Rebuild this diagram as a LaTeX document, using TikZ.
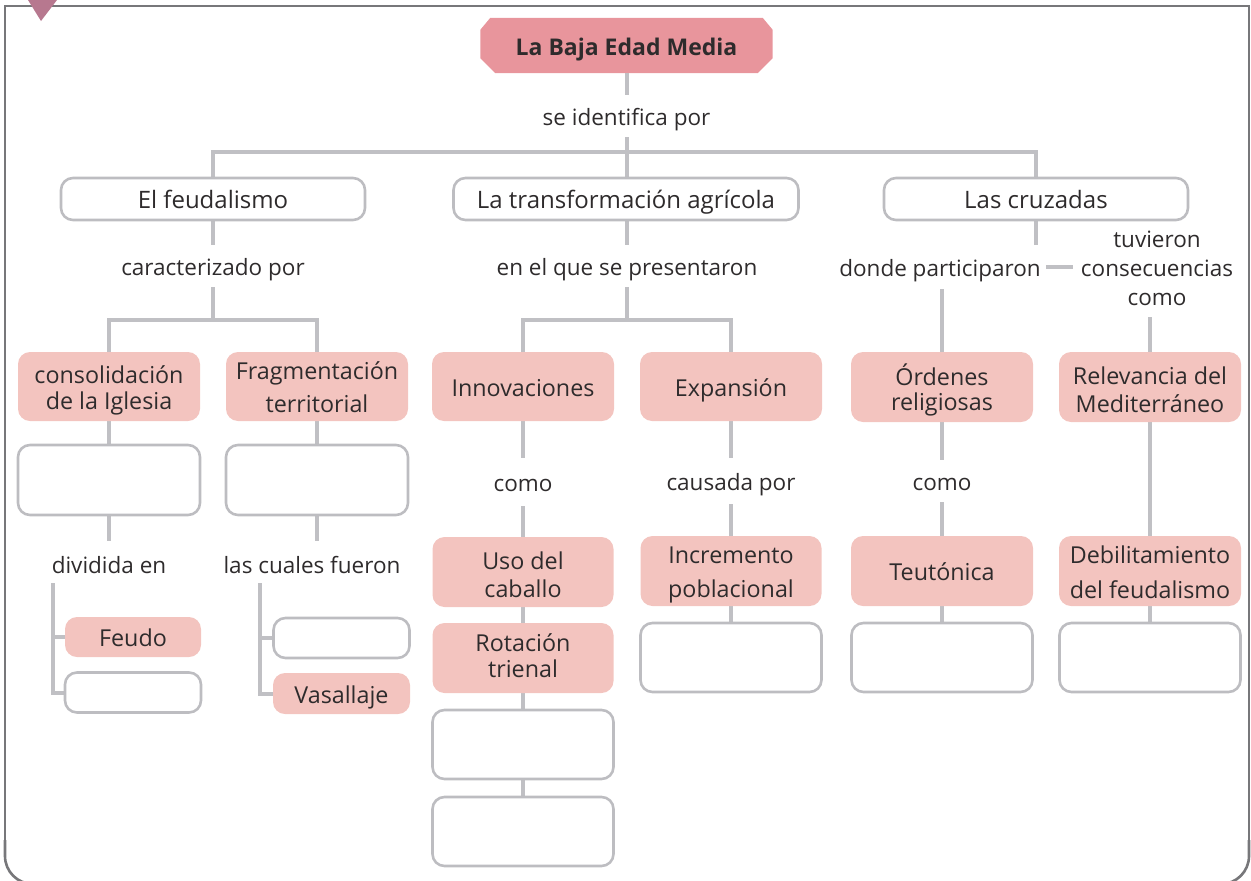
\documentclass[tikz,border=0pt]{standalone}
\usepackage{fontspec}
\setmainfont{Open Sans}
\usetikzlibrary{backgrounds}
\definecolor{linegray}{HTML}{C0C0C4}
\definecolor{boxgray}{HTML}{BDBDC1}
\definecolor{framegray}{HTML}{77777A}
\definecolor{pinkfill}{HTML}{F3C4BF}
\definecolor{titlefill}{HTML}{E8959C}
\definecolor{trifill}{HTML}{B7788F}
\definecolor{txt}{HTML}{2E2B2C}
\newcommand{\twoln}[4]{\rule{0pt}{#1pt}#3\\#4\rule[-#2pt]{0pt}{#2pt}}
\newcommand{\bfs}[1]{\fontsize{23.3}{#1}\selectfont}
\begin{document}
\begin{tikzpicture}[x=1pt,y=-1pt,
  every node/.style={font=\fontsize{22.5}{27}\selectfont, text=txt, inner sep=0pt, align=center},
  sl/.style={text height=21pt, text depth=2pt},
  conn/.style={draw=linegray, line width=4pt},
  wbox/.style={draw=boxgray, line width=2.6pt, fill=white, rounded corners=12pt},
  hbox/.style={wbox, sl, font=\fontsize{24}{27}\selectfont, minimum height=42pt},
  pbox/.style={fill=pinkfill, rounded corners=12pt, font=\bfs{27}},
  lbl/.style={sl, inner xsep=5pt},
]
\useasboundingbox (0,0) rectangle (1251,881);
% frame
\draw[framegray, line width=2.6pt] (5,860) -- (5,6) -- (1249,6) -- (1249,860);
\draw[framegray, line width=2.6pt, rounded corners=28pt] (1249,840) -- (1249,884) -- (5,884) -- (5,840);

% title and first level
\node[sl, minimum width=292pt, minimum height=55pt, font=\fontsize{23}{27}\selectfont\bfseries] (title) at (626.5,45.5) {La Baja Edad Media};
\node[lbl, minimum height=42pt] (sip) at (626.5,116) {se identifica por};
\coordinate (bus1) at (626.5,152);
\node[hbox, minimum width=304pt] (feud) at (213,199) {El feudalismo};
\node[hbox, minimum width=345pt] (trans) at (626,199) {La transformación agrícola};
\node[hbox, minimum width=304pt] (cruz) at (1036,199) {Las cruzadas};

% left branch
\node[lbl, minimum height=42pt] (carac) at (213,266) {caracterizado por};
\coordinate (bus2) at (213,320);
\node[pbox, minimum width=182pt, minimum height=69pt, font=\bfs{26}] (cons) at (109,386.5) {\twoln{26}{6}{consolidación}{de la Iglesia}};
\node[pbox, minimum width=182pt, minimum height=69pt, font=\bfs{33}] (frag) at (317,386.5) {\twoln{25}{6}{Fragmentación}{territorial}};
\node[wbox, minimum width=182pt, minimum height=70pt] (b1) at (109,480) {};
\node[wbox, minimum width=182pt, minimum height=70pt] (b2) at (317,480) {};
\node[lbl, minimum height=46pt] (divid) at (109,564) {dividida en};
\node[lbl, minimum height=46pt] (cuales) at (312,564) {las cuales fueron};
\coordinate (k1) at (53,583);
\coordinate (k2) at (260,583);
\node[pbox, sl, minimum width=136pt, minimum height=40pt] (feudo) at (133,637) {Feudo};
\node[wbox, minimum width=136pt, minimum height=40pt] (b3) at (133,692.5) {};
\node[wbox, minimum width=136pt, minimum height=40pt] (b4) at (341.5,638) {};
\node[pbox, sl, minimum width=137pt, minimum height=41pt] (vasal) at (341.5,693.5) {Vasallaje};

% middle branch
\node[lbl, minimum height=42pt] (enque) at (627,266) {en el que se presentaron};
\coordinate (bus3) at (627,320);
\node[pbox, sl, minimum width=182pt, minimum height=69pt] (innov) at (523,386.5) {Innovaciones};
\node[pbox, sl, minimum width=182pt, minimum height=69pt] (expa) at (731,386.5) {Expansión};
\node[lbl, minimum height=48pt] (como1) at (523,482) {como};
\node[lbl, minimum height=46pt] (causa) at (731,481) {causada por};
\node[pbox, minimum width=181pt, minimum height=70pt, font=\bfs{28}] (uso) at (523,572) {\twoln{28}{6}{Uso del}{caballo}};
\node[pbox, minimum width=181pt, minimum height=70pt, font=\bfs{26}] (rota) at (523,658) {\twoln{22}{10}{Rotación}{trienal}};
\node[wbox, minimum width=181pt, minimum height=69pt] (b5) at (523,744.5) {};
\node[wbox, minimum width=181pt, minimum height=69pt] (b6) at (523,831.5) {};
\node[pbox, minimum width=181pt, minimum height=70pt, font=\bfs{34}] (incr) at (731,571) {\twoln{24}{6}{Incremento}{poblacional}};
\node[wbox, minimum width=181pt, minimum height=69pt] (b7) at (731,657.5) {};

% right branch
\node[lbl, minimum height=44pt] (donde) at (940,267) {donde participaron};
\node[minimum height=94pt, inner xsep=8pt, font=\fontsize{22.5}{29}\selectfont] (tuv) at (1157,270) {\rule{0pt}{20pt}tuvieron\\consecuencias\\como\rule[-8pt]{0pt}{8pt}};
\node[pbox, minimum width=182pt, minimum height=70pt, font=\bfs{25}] (orden) at (942,387) {\twoln{27}{6}{Órdenes}{religiosas}};
\node[pbox, minimum width=182pt, minimum height=70pt, font=\bfs{28}] (relev) at (1150,387) {\twoln{28}{6}{Relevancia del}{Mediterráneo}};
\node[lbl, minimum height=42pt] (como2) at (942,481) {como};
\node[pbox, sl, minimum width=182pt, minimum height=70pt] (teut) at (942,571) {Teutónica};
\node[wbox, minimum width=181pt, minimum height=69pt] (b8) at (942,657.5) {};
\node[pbox, minimum width=182pt, minimum height=70pt, font=\bfs{35}] (debil) at (1150,571) {\twoln{25}{6}{Debilitamiento}{del feudalismo}};
\node[wbox, minimum width=181pt, minimum height=69pt] (b9) at (1150,657.5) {};

\begin{scope}[on background layer]
  \fill[titlefill] ([xshift=10pt]title.north west) -- ([xshift=-10pt]title.north east)
     -- ([yshift=-12pt]title.north east) -- ([yshift=15pt]title.south east)
     -- ([xshift=-15pt]title.south east) -- ([xshift=15pt]title.south west)
     -- ([yshift=15pt]title.south west) -- ([yshift=-12pt]title.north west) -- cycle;
  \draw[conn] (title.south) -- (sip.north);
  \draw[conn] (sip.south) -- (sip.south |- trans.north);
  \draw[conn] (feud.north) |- (bus1) -| (cruz.north);
  % left
  \draw[conn] (feud.south) -- (carac.north);
  \draw[conn] (carac.south) -- (bus2);
  \draw[conn] (cons.north) |- (bus2) -| (frag.north);
  \draw[conn] (cons.south) -- (b1.north);
  \draw[conn] (frag.south) -- (b2.north);
  \draw[conn] (b1.south) -- (divid.north);
  \draw[conn] (b2.south) -- (b2.south |- cuales.north);
  \draw[conn] (k1) |- (feudo.west);
  \draw[conn] (k1) |- (b3.west);
  \draw[conn] (k2) |- (b4.west);
  \draw[conn] (k2) |- (vasal.west);
  % middle
  \draw[conn] (trans.south -| enque.north) -- (enque.north);
  \draw[conn] (enque.south) -- (bus3);
  \draw[conn] (innov.north) |- (bus3) -| (expa.north);
  \draw[conn] (innov.south) -- (como1.north);
  \draw[conn] (como1.south) -- (uso.north);
  \draw[conn] (uso.south) -- (rota.north);
  \draw[conn] (rota.south) -- (b5.north);
  \draw[conn] (b5.south) -- (b6.north);
  \draw[conn] (expa.south) -- (causa.north);
  \draw[conn] (causa.south) -- (incr.north);
  \draw[conn] (incr.south) -- (b7.north);
  % right
  \draw[conn] (cruz.south) -- (cruz.south |- donde.north);
  \draw[conn] (donde.east) -- (donde.east -| tuv.west);
  \draw[conn] (donde.south -| orden.north) -- (orden.north);
  \draw[conn] (tuv.south -| relev.north) -- (relev.north);
  \draw[conn] (orden.south) -- (como2.north);
  \draw[conn] (como2.south) -- (teut.north);
  \draw[conn] (teut.south) -- (b8.north);
  \draw[conn] (relev.south) -- (debil.north);
  \draw[conn] (debil.south) -- (b9.north);
\end{scope}

\fill[trifill] (28,0) -- (57,0) -- (41,21) -- cycle;
\end{tikzpicture}
\end{document}
